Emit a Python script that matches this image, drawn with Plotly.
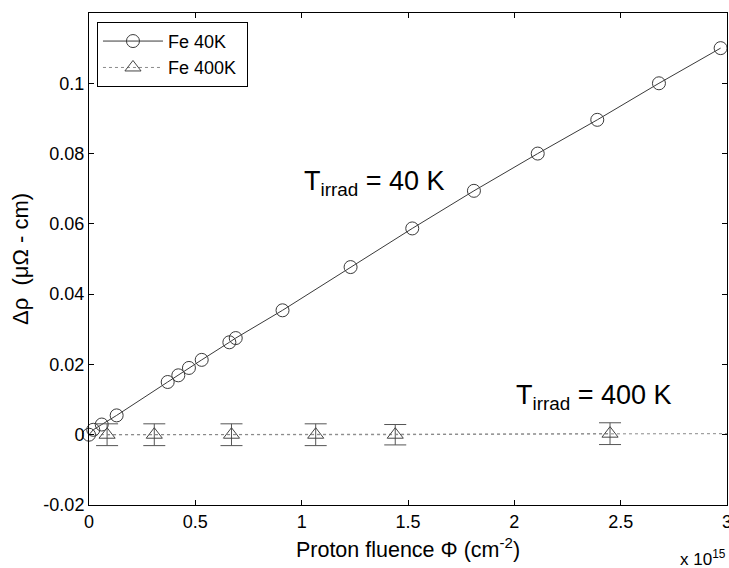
import plotly.graph_objects as go

# Fluence in units of 1e15 cm^-2, resistivity change in micro-ohm cm
fe40_fluence = [0.0, 0.02, 0.06, 0.13, 0.37, 0.42, 0.47, 0.53, 0.66, 0.69,
                0.91, 1.23, 1.52, 1.81, 2.11, 2.39, 2.68, 2.97]
fe40_drho = [0.0, 0.0014, 0.0029, 0.0055, 0.0150, 0.0169, 0.0190, 0.0213, 0.0263, 0.0275,
             0.0354, 0.0477, 0.0587, 0.0694, 0.0800, 0.0896, 0.1000, 0.1100]

fe400_fluence = [0.085, 0.307, 0.67, 1.066, 1.44, 2.45]
fe400_drho = [0.0, 0.0, 0.0, 0.0, 0.0, 0.0003]
fe400_err = [0.0031, 0.0031, 0.0031, 0.0031, 0.0029, 0.0031]

fit400_fluence = [0.0, 3.0]
fit400_drho = [0.0, 0.0003]

x_tickvals = [0, 0.5, 1, 1.5, 2, 2.5, 3]
x_ticktext = ["0", "0.5", "1", "1.5", "2", "2.5", "3"]
y_tickvals = [-0.02, 0, 0.02, 0.04, 0.06, 0.08, 0.1]
y_ticktext = ["-0.02", "0", "0.02", "0.04", "0.06", "0.08", "0.1"]

FONT = "Liberation Sans, Arial, sans-serif"

fig = go.Figure()

fig.add_trace(go.Scatter(
    x=fit400_fluence, y=fit400_drho, mode="lines",
    line=dict(color="#8a8a8a", width=1, dash="dot"),
    showlegend=False, hoverinfo="skip"))

fig.add_trace(go.Scatter(
    x=fe40_fluence, y=fe40_drho, mode="lines+markers", name="Fe 40K",
    cliponaxis=False,
    line=dict(color="#3a3a3a", width=1),
    marker=dict(symbol="circle-open", size=13, color="#3a3a3a",
                line=dict(width=1, color="#3a3a3a"))))

fig.add_trace(go.Scatter(
    x=fe400_fluence, y=fe400_drho, mode="lines+markers", name="Fe 400K\u00a0",
    line=dict(color="#8a8a8a", width=1, dash="dot"),
    marker=dict(symbol="triangle-up-open", size=14, color="#444444",
                line=dict(width=1, color="#444444")),
    error_y=dict(type="data", array=fe400_err, visible=True,
                 color="#555555", thickness=1, width=11)))

fig.add_annotation(x=1.0, y=0.0717, xref="x", yref="y", xanchor="left", yanchor="middle",
                   text="T<sub>irrad</sub> = 40 K", showarrow=False,
                   font=dict(family=FONT, size=27, color="black"))
fig.add_annotation(x=2.0, y=0.0106, xref="x", yref="y", xanchor="left", yanchor="middle",
                   text="T<sub>irrad</sub> = 400 K", showarrow=False,
                   font=dict(family=FONT, size=27, color="black"))
fig.add_annotation(x=1.0016, y=-0.108, xref="paper", yref="paper", xanchor="right", yanchor="middle",
                   text="x 10<sup>15</sup>", showarrow=False,
                   font=dict(family=FONT, size=17, color="black"))

fig.update_layout(
    width=729, height=568,
    margin=dict(l=89, r=2, t=13, b=63, autoexpand=False),
    paper_bgcolor="white", plot_bgcolor="white",
    font=dict(family=FONT, size=17, color="black"),
    legend=dict(x=0.0125, y=0.982, xanchor="left", yanchor="top",
                bordercolor="black", borderwidth=1, bgcolor="white",
                itemwidth=60,
                font=dict(family=FONT, size=18)),
)

fig.update_xaxes(range=[0, 3], tickvals=x_tickvals, ticktext=x_ticktext,
                 showgrid=False, zeroline=False, showline=True, linecolor="black",
                 linewidth=1, mirror="ticks", ticks="inside", ticklen=5,
                 tickcolor="black", tickfont=dict(size=18),
                 ticklabeloverflow="allow", automargin=False,
                 title=dict(text="Proton fluence \u03a6 (cm<sup>-2</sup>)",
                            font=dict(size=21.5), standoff=11))
fig.update_yaxes(range=[-0.02, 0.12], tickvals=y_tickvals, ticktext=y_ticktext,
                 showgrid=False, zeroline=False, showline=True, linecolor="black",
                 linewidth=1, mirror="ticks", ticks="inside", ticklen=5,
                 tickcolor="black", tickfont=dict(size=18), automargin=False,
                 title=dict(text="\u0394\u03c1 \u00a0(\u03bc\u03a9 - cm)",
                            font=dict(size=22), standoff=8))

fig.write_html("out.html", config={"displayModeBar": False},
               post_script="document.body.style.margin='0';document.body.style.overflow='hidden';")
